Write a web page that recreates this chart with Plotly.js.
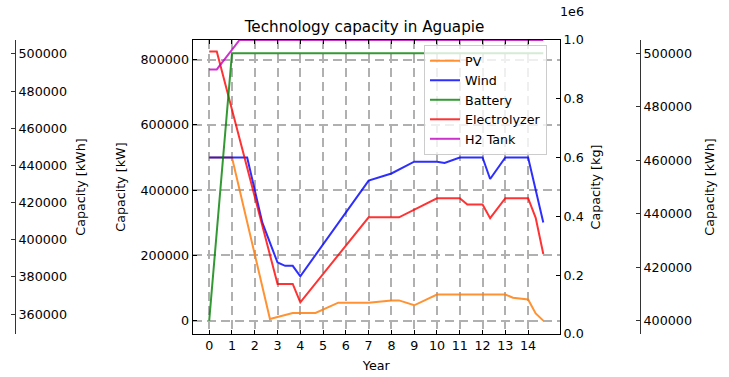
<!DOCTYPE html>
<html>
<head>
<meta charset="utf-8">
<script src="https://cdn.plot.ly/plotly-3.0.1.min.js"></script>
<style>html,body{margin:0;padding:0;background:#fff;}#chart{width:729px;height:377px;}</style>
</head>
<body>
<div id="chart"></div>
<script>
// ---- data ----
const yearTicks = [0,1,2,3,4,5,6,7,8,9,10,11,12,13,14];

const yearsPV = [0, 1, 2.667, 3.667, 4.667, 5.667, 7, 8, 8.333, 9, 10, 13, 13.333, 14, 14.333, 14.667];
const pv      = [500000, 500000, 5000, 23600, 23600, 55000, 55000, 62000, 62000, 47000, 80000, 80000, 70000, 65000, 22000, 0];

const yearsWind = [0, 1.667, 2.333, 3, 3.333, 3.667, 4, 7, 8, 9, 10, 10.333, 11, 12, 12.333, 13, 14, 14.667];
const wind      = [500000, 500000, 300000, 178000, 168000, 168000, 136000, 429000, 451000, 487000, 487000, 483000, 500000, 500000, 434000, 500000, 500000, 301000];

const yearsBattery = [0, 1, 14.667];
const battery      = [400000, 500000, 500000];

const yearsEly = [0, 0.333, 3, 3.667, 4, 7, 8.333, 10, 11, 11.333, 12, 12.333, 13, 14, 14.333, 14.667];
const ely      = [825000, 825000, 112500, 112500, 56000, 316700, 316700, 375000, 375000, 356000, 356000, 314000, 375000, 375000, 315000, 204000];

const yearsH2 = [0, 0.333, 1.333, 14.667];
const h2      = [900000, 900000, 1000000, 1000000];

const kwTicks  = [0, 200000, 400000, 600000, 800000];
const kgTicks  = [0, 200000, 400000, 600000, 800000, 1000000];
const kgLabels = ['0.0','0.2','0.4','0.6','0.8','1.0'];
const kwhRightTicks = [400000, 420000, 440000, 460000, 480000, 500000];
const kwhLeftTicks  = [360000, 380000, 400000, 420000, 440000, 460000, 480000, 500000];

// ---- drawing ----
const W = 729, H = 377;
const FONT = 'DejaVu Sans';
const FS = 12.7;
const px = v => v / W;

const line = (c) => ({color: c, width: 2});

const traces = [
  {x: yearsPV, y: pv, name: 'PV', mode: 'lines', line: line('rgba(255,127,14,0.85)'), xaxis: 'x', yaxis: 'y', legendgroup: 'a'},
  {x: yearsWind, y: wind, name: 'Wind', mode: 'lines', line: line('rgba(0,0,255,0.82)'), xaxis: 'x', yaxis: 'y', legendgroup: 'b'},
  {x: yearsBattery, y: battery, name: 'Battery', mode: 'lines', line: line('rgba(0,128,0,0.8)'), xaxis: 'x', yaxis: 'y3', legendgroup: 'c'},
  {x: yearsEly, y: ely, name: 'Electrolyzer', mode: 'lines', line: line('rgba(255,0,0,0.8)'), xaxis: 'x', yaxis: 'y', legendgroup: 'd'},
  {x: yearsH2, y: h2, name: 'H2 Tank', mode: 'lines', line: line('rgba(191,0,191,0.8)'), xaxis: 'x', yaxis: 'y2', legendgroup: 'e'},
  // empty trace so that the far-left kWh axis exists (it carries no visible line in the reference)
  {x: [], y: [], mode: 'lines', xaxis: 'x', yaxis: 'y4', showlegend: false, hoverinfo: 'skip'}
];

const tickfont = {family: FONT, size: FS, color: '#000'};
const titlefont = {family: FONT, size: FS, color: '#000'};

const layout = {
  width: W, height: H,
  margin: {l: 0, r: 0, t: 40, b: 43, pad: 0},
  paper_bgcolor: '#fff', plot_bgcolor: '#fff',
  font: {family: FONT, size: FS, color: '#000'},
  title: {text: 'Technology capacity in Aguapie', font: {family: FONT, size: 15.2, color: '#000'},
          xref: 'paper', x: 0.5, xanchor: 'center', yref: 'container', y: 1 - 27/H, yanchor: 'middle'},
  showlegend: true,
  legend: {x: px(424), y: 1 - 5/294, xanchor: 'left', yanchor: 'top',
           bgcolor: 'rgba(255,255,255,0.8)', bordercolor: '#cccccc', borderwidth: 1,
           font: {family: FONT, size: FS, color: '#000'}, itemwidth: 30, tracegroupgap: 3.5,
           traceorder: 'normal'},
  xaxis: {domain: [px(192.5), px(560)], range: [-0.733, 15.4], tickvals: yearTicks,
          ticks: 'inside', ticklen: 4, tickcolor: '#000', showline: true, linecolor: '#000', linewidth: 1,
          mirror: 'ticks', showgrid: true, gridcolor: '#b0b0b0', gridwidth: 2, griddash: '9px,5px',
          zeroline: false, tickfont: tickfont, automargin: false,
          title: {text: 'Year', font: titlefont, standoff: 8}},
  yaxis: {range: [-41000, 860000], tickvals: kwTicks, tickformat: 'd',
          ticks: 'inside', ticklen: 4, tickcolor: '#000', showline: true, linecolor: '#000', linewidth: 1,
          showgrid: true, gridcolor: '#b0b0b0', gridwidth: 2, griddash: '9px,5px', zeroline: false,
          tickfont: tickfont, automargin: false,
          title: {text: 'Capacity [kW]', font: titlefont, standoff: 12}},
  yaxis2: {overlaying: 'y', side: 'right', anchor: 'x', range: [0, 1000000], tickvals: kgTicks, ticktext: kgLabels,
           ticks: 'inside', ticklen: 4, tickcolor: '#000', showline: true, linecolor: '#000', linewidth: 1,
           showgrid: false, zeroline: false, tickfont: tickfont, automargin: false,
           title: {text: 'Capacity [kg]', font: titlefont, standoff: 8}},
  yaxis3: {overlaying: 'y', side: 'right', anchor: 'free', position: px(640), range: [395000, 505000],
           tickvals: kwhRightTicks, tickformat: 'd',
           ticks: 'inside', ticklen: 4, tickcolor: '#333', showline: true, linecolor: '#333', linewidth: 1,
           showgrid: false, zeroline: false, tickfont: tickfont, automargin: false,
           title: {text: 'Capacity [kWh]', font: titlefont, standoff: 14}},
  yaxis4: {overlaying: 'y', side: 'right', anchor: 'free', position: px(15), range: [349270, 507510],
           tickvals: kwhLeftTicks, tickformat: 'd',
           ticks: 'inside', ticklen: 4, tickcolor: '#333', showline: true, linecolor: '#333', linewidth: 1,
           showgrid: false, zeroline: false, tickfont: tickfont, automargin: false,
           title: {text: 'Capacity [kWh]', font: titlefont, standoff: 10}},
  annotations: [
    {text: '1e6', xref: 'paper', yref: 'paper', x: px(572), y: 1 + (40 - 11.5)/294,
     xanchor: 'center', yanchor: 'middle', showarrow: false, font: {family: FONT, size: FS, color: '#000'}}
  ]
};

Plotly.newPlot('chart', traces, layout, {displayModeBar: false, staticPlot: true});
</script>
</body>
</html>
